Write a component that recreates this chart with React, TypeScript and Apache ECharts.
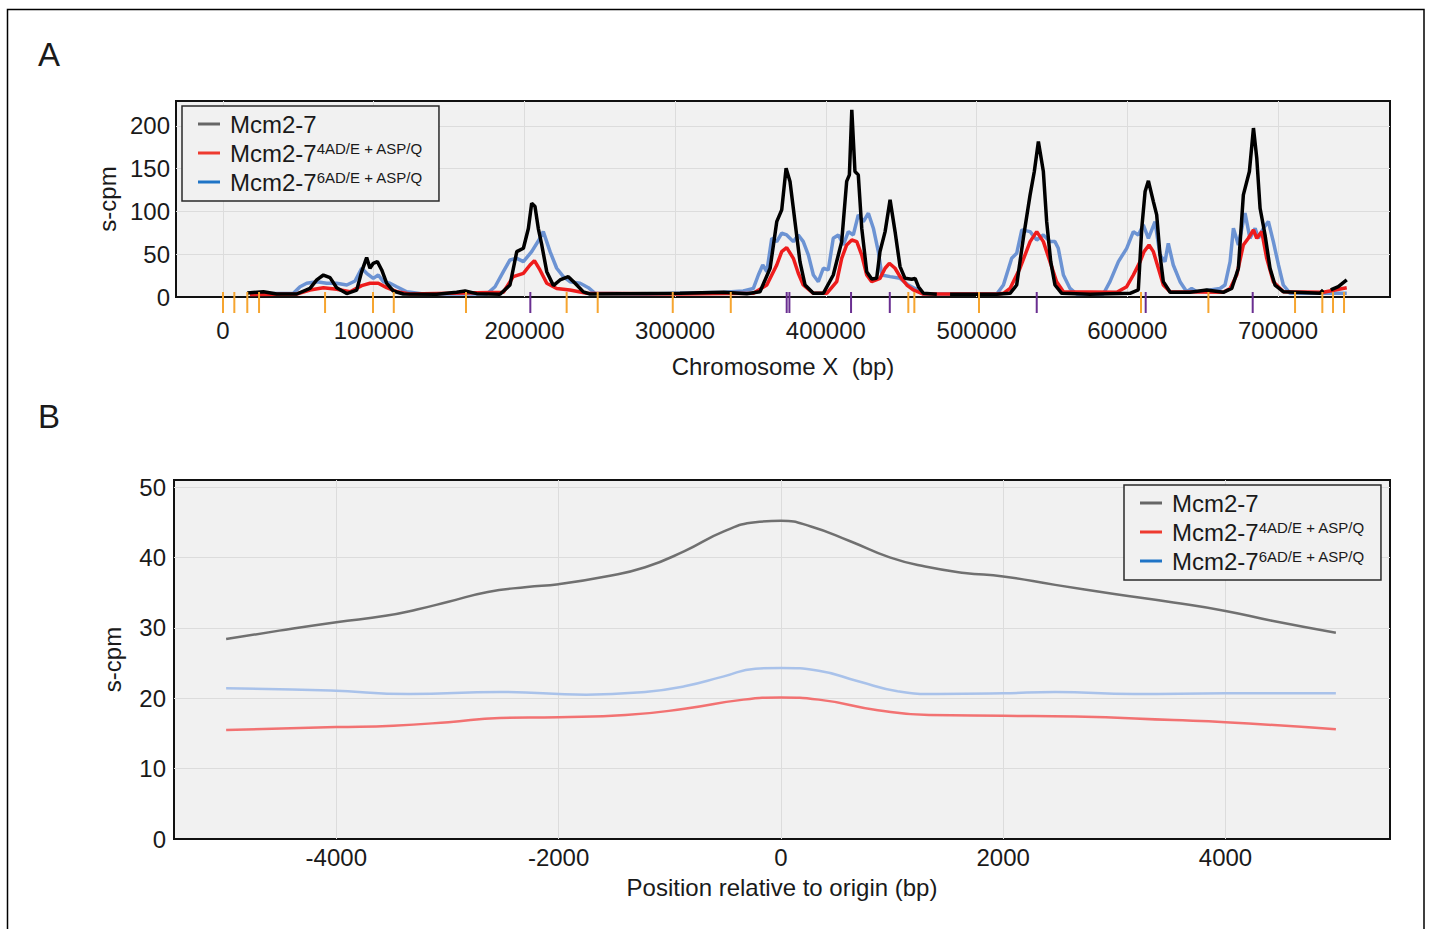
import React, { useEffect, useRef } from "react";
import * as echarts from "echarts";

// ---------- Panel A data (positions in kb, values in s-cpm) ----------
const blackPos = [16.1, 26.8, 35.6, 48.9, 57.7, 62.2, 66.6, 71, 75.4, 82.1, 88.7, 92, 95.3, 97.5, 99.7, 102.4, 105.3, 108.6, 113, 119.6, 141.8, 155, 160.6, 168.3, 183.8, 190.4, 194.9, 199.3, 202.6, 204.8, 207, 209.2, 211.5, 214.8, 219.2, 223.6, 229.1, 233.6, 239.1, 243.5, 303.2, 332, 347.5, 356.3, 363, 367.4, 370.7, 373.6, 376.2, 379.5, 382.8, 386.2, 391.7, 398.3, 404.9, 410.5, 413.8, 415.6, 417.2, 419.3, 421.5, 423.8, 427.1, 430.4, 433.7, 435.9, 439.3, 442.6, 445.9, 449.2, 452.5, 457, 459.2, 461.4, 464.7, 473.6, null, 482.4, 513.4, 522.2, 526.6, 531, 535.5, 538.3, 541, 544.3, 546.5, 549.2, 552, 556.5, 575.3, 601.8, 607.3, 609.6, 611.8, 614, 617.3, 619.5, 621.7, 623.9, 628.4, 641.6, 652.7, 663.7, 669.3, 673.7, 677, 681, 683.7, 685.9, 688.1, 691.4, 694.7, 698, 703.5, 727.9, 730, null, 735, 740, 745.6];
const blackVal = [4.7, 6.2, 3.5, 3.5, 10, 20, 25.7, 22.6, 10.9, 4, 8, 29.6, 46, 33.6, 39.4, 41.3, 31.6, 16, 7, 3.5, 3.2, 5.5, 7, 3.9, 3.2, 14, 53, 57, 80, 109.6, 105.7, 80, 60.8, 29.6, 13.3, 19.9, 23.8, 16, 6, 3.5, 4.3, 5.5, 3.9, 6.2, 33.6, 88, 101.8, 150.5, 135, 88, 41.3, 14, 4.3, 4.3, 25.7, 64.7, 135, 142.7, 218.8, 146.6, 142.7, 80.4, 29.6, 21, 21.8, 53, 76.4, 113.5, 76.4, 35.5, 21.8, 20.7, 21.8, 12, 4.3, 3.2, null, 3.2, 3.2, 4.3, 14, 68.6, 119.3, 146.6, 181.7, 146.6, 88, 41.3, 14, 4.3, 3.2, 4.3, 8.2, 80.4, 123.2, 135.7, 111.5, 96, 49, 18, 5.5, 5.5, 8.2, 5.5, 10, 33.6, 119.3, 146.6, 197.4, 162.3, 103.7, 72.5, 33.6, 14, 6.2, 4.3, 8.2, null, 8.2, 12, 19.9];

const redPos = [17.9, 48.9, 57.7, 66.6, 75.4, 84.3, 92, 97.5, 103, 108.6, 115.3, 124.1, 186, 192.6, 199.3, 203.7, 206.6, 210.3, 214.8, 221.4, 230.2, 241.3, 303.2, 351.9, 360.8, 367.4, 370.7, 374, 378.4, 381.7, 385, 391.7, 400.6, 407.2, 410.5, 413.8, 417.2, 420.5, 423.8, 427.1, 430.4, 435.9, 439.3, 442.1, 445.9, 449.2, 453.7, 458, 464.7, 513.4, 517.8, 522.2, 528.8, 535.5, 539.9, 544.3, 548.7, 553.1, 557.6, 593, 599.6, 604, 608.5, 611.1, 614.4, 617.3, 620.6, 623.9, 628.4, 663.7, 668.2, 672.6, 677, 680.3, 683.7, 685.9, 689.2, 692.5, 696.9, 703.5, 730, 745.6];
const redVal = [3, 3.5, 8.2, 10.9, 9, 6.2, 13.3, 16, 16, 10.9, 6.2, 3.5, 5.5, 23.8, 27.7, 37.4, 42.5, 31.6, 16, 10, 8.2, 4.3, 3.5, 4.3, 14, 37.4, 53, 57.7, 45.2, 27.7, 14, 4.3, 4.3, 17.9, 45.2, 60.8, 66.6, 64.7, 49, 25.7, 17.9, 21.8, 33.6, 39.4, 33.6, 23.8, 14, 8.2, 3.5, 3.5, 4.3, 10, 33.6, 64.7, 76.4, 64.7, 41.3, 17.9, 6.2, 5.5, 12, 25.7, 41.3, 53, 60.8, 53, 33.6, 14, 6.2, 5.5, 10, 25.7, 60.8, 68.6, 78.4, 68.6, 76.4, 45.2, 17.9, 6.2, 5.5, 10.9];

const bluePos = [17.9, 46.7, 51.1, 55.5, 62.2, 68.8, 75.4, 82.1, 87.6, 92, 95.3, 99.7, 103, 106.4, 110.8, 115.3, 121.9, 132.9, 175, 180.5, 186, 190.4, 194.9, 199.3, 204.8, 210.3, 212.5, 217, 221.4, 225.8, 230.2, 236.9, 239.1, 242.4, 246.8, 281.1, 332, 345.2, 351.9, 355.2, 358.1, 360.8, 364.1, 367.4, 370.7, 374, 378.4, 381.7, 385, 388.4, 391.7, 395, 398.3, 401.6, 404.9, 408.3, 411.6, 414.9, 418.2, 421.5, 424.9, 428.2, 431.5, 434.8, 437.1, 442.6, 449.2, 454.7, 459.2, 464.7, 513.4, 517.8, 523.3, 526.6, 530, 535.5, 539.9, 544.3, 548.7, 552, 554.2, 557.6, 562, 566.4, 584.1, 588.5, 594.1, 599.6, 604, 607.3, 610.6, 614, 618.4, 621.7, 625, 627.2, 630.5, 635, 639.4, 642.7, 646.1, 654.9, 661.5, 664.8, 668.2, 670.4, 673.7, 678.1, 681.4, 684.8, 687, 690.3, 693.6, 696.9, 700.3, 703.5, 708, 745.6];
const blueVal = [4, 4.3, 12, 16, 17.9, 16, 16, 14, 18.7, 33.6, 27.7, 21.8, 25.7, 17.9, 16, 12, 6.2, 3.5, 3.5, 12, 29.6, 43.3, 45.2, 41.3, 53, 68.6, 76.4, 53, 33.6, 23.8, 17.9, 16, 14, 10.9, 4.3, 3.5, 5.5, 7, 10, 25.7, 37.4, 29.6, 68.6, 64.7, 74.5, 72.5, 64.7, 72.5, 64.7, 49, 25.7, 17.9, 33.6, 31.6, 68.6, 72.5, 60.8, 76.4, 72.5, 96, 88, 97.9, 80.4, 53, 25.7, 23.8, 21.8, 14, 10, 3.5, 3.5, 14, 45.2, 51, 78.4, 76.4, 66.6, 72.5, 64.7, 64.7, 56.9, 25.7, 10, 3.5, 3.5, 17.9, 41.3, 56.9, 76.4, 72.5, 84.2, 68.6, 88, 49, 41.3, 62.7, 37.4, 17.9, 6.2, 10, 6.2, 8.2, 10, 14, 41.3, 80.4, 60.8, 97.9, 68.6, 80.4, 68.6, 80.4, 88.2, 64.7, 37.4, 14, 4.3, 4.3];

// origin markers along chromosome (kb)
const originsOrange = [0, 7.5, 16.1, 23.9, 67.7, 99.5, 113.3, 161.2, 228, 248.6, 298.4, 336.9, 454.7, 458.7, 501.6, 609.1, 653.8, 711.3, 729.4, 736.5, 743.8];
const originsPurple = [203.9, 374, 375.8, 416.7, 442.4, 539.9, 612.2, 683.2];

// ---------- Panel B data (position relative to origin, bp) ----------
const grayPosB = [-4991, -4513, -4000, -3558, -3274, -2991, -2637, -2283, -2000, -1575, -1221, -867, -513, -230, 0, 270, 624, 979, 1298, 1652, 2000, 2468, 3000, 3532, 4000, 4418, 4993];
const grayValB = [28.4, 29.6, 30.8, 31.7, 32.6, 33.7, 35.1, 35.8, 36.2, 37.3, 38.6, 40.9, 43.7, 45.0, 45.2, 44.4, 42.3, 40.0, 38.7, 37.8, 37.3, 36.1, 34.8, 33.6, 32.4, 31.0, 29.3];
const bluePosB = [-4991, -4053, -3345, -2531, -1752, -1221, -867, -513, -230, 0, 340, 695, 1050, 1404, 2000, 2468, 3177, 4000, 4993];
const blueValB = [21.4, 21.1, 20.6, 20.9, 20.5, 20.9, 21.7, 23.1, 24.2, 24.3, 23.9, 22.4, 21.0, 20.6, 20.7, 20.9, 20.6, 20.7, 20.7];
const redPosB = [-4991, -4000, -3487, -2991, -2531, -2000, -1398, -867, -336, 0, 340, 872, 1333, 2000, 2645, 3532, 4000, 4993];
const redValB = [15.5, 15.9, 16.1, 16.6, 17.2, 17.3, 17.6, 18.5, 19.8, 20.1, 19.8, 18.3, 17.6, 17.5, 17.4, 16.9, 16.6, 15.6];

const NAME_WT = "Mcm2-7";
const NAME_4 = "Mcm2-7 4AD/E + ASP/Q";
const NAME_6 = "Mcm2-7 6AD/E + ASP/Q";
const SUP: Record<string, string> = { [NAME_4]: "4AD/E + ASP/Q", [NAME_6]: "6AD/E + ASP/Q" };

const FONT = "Liberation Sans, Arial, sans-serif";
const TXT = "#1a1a1a";

function pairs(pos: (number | null)[], val: (number | null)[], scale: number) {
  return pos.map((p, i) => (p === null || val[i] === null ? [null, null] : [(p as number) * scale, val[i]]));
}

function markSeries(name: string, list: number[], color: string) {
  return {
    name,
    type: "custom",
    xAxisIndex: 0,
    yAxisIndex: 0,
    clip: false,
    silent: true,
    z: 5,
    data: list.map((k) => [k * 1000, 0]),
    renderItem: (_p: any, api: any) => {
      const c = api.coord([api.value(0), 0]);
      return {
        type: "rect",
        shape: { x: c[0] - 1, y: c[1] - 5, width: 2, height: 21 },
        style: { fill: color },
      };
    },
  };
}

function legendOpt(left: number, top: number) {
  return {
    orient: "vertical",
    left,
    top,
    padding: [6, 16, 7, 16],
    itemGap: 5,
    itemWidth: 22,
    itemHeight: 3,
    icon: "rect",
    backgroundColor: "#f1f1f1",
    borderColor: "#2a2a2a",
    borderWidth: 1.5,
    borderRadius: 0,
    selectedMode: false,
    data: [
      { name: NAME_WT, itemStyle: { color: "#666666" } },
      { name: NAME_4, itemStyle: { color: "#ee3a2f" } },
      { name: NAME_6, itemStyle: { color: "#1f74c6" } },
    ],
    formatter: (name: string) =>
      SUP[name] ? `{m|Mcm2-7}{s|${SUP[name]}}` : `{m|Mcm2-7}`,
    textStyle: {
      color: TXT,
      fontFamily: FONT,
      rich: {
        m: { fontSize: 24, lineHeight: 24, fontFamily: FONT, color: TXT, padding: [0, 0, 0, 5] },
        s: { fontSize: 15, lineHeight: 15, fontFamily: FONT, color: TXT, verticalAlign: "top" },
      },
    },
  };
}

export default function App() {
  const ref = useRef<HTMLDivElement>(null);
  useEffect(() => {
    if (!ref.current) return;
    const chart = echarts.init(ref.current, null, { renderer: "svg" });
    const fmt = (v: number) => String(v);
    const axisLabel = { color: TXT, fontSize: 24, fontFamily: FONT, formatter: fmt };
    const splitLine = { show: true, showMinLine: false, showMaxLine: false, lineStyle: { color: "#dcdcdc", width: 1 } };
    const nameStyle = { color: TXT, fontSize: 24, fontFamily: FONT };
    chart.setOption({
      animation: false,
      backgroundColor: "#ffffff",
      grid: [
        { left: 176, top: 101, width: 1214, height: 196, show: true, backgroundColor: "#f1f1f1", borderColor: "#111", borderWidth: 2 },
        { left: 174, top: 480, width: 1216, height: 359, show: true, backgroundColor: "#f1f1f1", borderColor: "#111", borderWidth: 2 },
      ],
      xAxis: [
        {
          gridIndex: 0, type: "value", min: -31200, max: 774300, splitNumber: 8,
          axisLine: { show: false }, axisTick: { show: false },
          axisLabel: { ...axisLabel, margin: 21, showMinLabel: false, showMaxLabel: false },
          splitLine,
          name: "Chromosome X  (bp)", nameLocation: "middle", nameGap: 57, nameTextStyle: nameStyle,
        },
        {
          gridIndex: 1, type: "value", min: -5460, max: 5480, splitNumber: 5,
          axisLine: { show: false }, axisTick: { show: false },
          axisLabel: { ...axisLabel, margin: 6, showMinLabel: false, showMaxLabel: false },
          splitLine,
          name: "Position relative to origin (bp)", nameLocation: "middle", nameGap: 36, nameTextStyle: nameStyle,
        },
      ],
      yAxis: [
        {
          gridIndex: 0, type: "value", min: 0, max: 229, splitNumber: 5,
          axisLine: { show: false }, axisTick: { show: false },
          axisLabel: { ...axisLabel, margin: 6, showMaxLabel: false },
          splitLine,
          name: "s-cpm", nameLocation: "middle", nameGap: 52, nameTextStyle: nameStyle,
        },
        {
          gridIndex: 1, type: "value", min: 0, max: 51, splitNumber: 5,
          axisLine: { show: false }, axisTick: { show: false },
          axisLabel: { ...axisLabel, margin: 8, showMaxLabel: false },
          splitLine,
          name: "s-cpm", nameLocation: "middle", nameGap: 50, nameTextStyle: nameStyle,
        },
      ],
      legend: [legendOpt(182, 106), legendOpt(1124, 485)],
      graphic: [
        { type: "rect", shape: { x: 7.5, y: 9.5, width: 1416.5, height: 940 }, style: { fill: "none", stroke: "#000", lineWidth: 1.5 }, silent: true },
        { type: "text", x: 38, y: 54, style: { text: "A", fontSize: 33, fontFamily: FONT, fill: TXT, verticalAlign: "middle" } },
        { type: "text", x: 38, y: 416, style: { text: "B", fontSize: 33, fontFamily: FONT, fill: TXT, verticalAlign: "middle" } },
      ],
      series: [
        { name: NAME_6, type: "line", xAxisIndex: 0, yAxisIndex: 0, showSymbol: false, connectNulls: false, data: pairs(bluePos, blueVal, 1000), lineStyle: { color: "#6c93d3", width: 3.5 }, itemStyle: { color: "#6c93d3" }, z: 2 },
        { name: NAME_4, type: "line", xAxisIndex: 0, yAxisIndex: 0, showSymbol: false, data: pairs(redPos, redVal, 1000), lineStyle: { color: "#ee1c1c", width: 3.5 }, itemStyle: { color: "#ee1c1c" }, z: 3 },
        { name: NAME_WT, type: "line", xAxisIndex: 0, yAxisIndex: 0, showSymbol: false, connectNulls: false, data: pairs(blackPos, blackVal, 1000), lineStyle: { color: "#000000", width: 3.5 }, itemStyle: { color: "#000000" }, z: 4 },
        markSeries("orange origins", originsOrange, "#f6a530"),
        markSeries("purple origins", originsPurple, "#6a2f91"),
        { name: NAME_WT, type: "line", xAxisIndex: 1, yAxisIndex: 1, showSymbol: false, smooth: true, data: pairs(grayPosB, grayValB, 1), lineStyle: { color: "#707070", width: 2.5 }, itemStyle: { color: "#707070" } },
        { name: NAME_4, type: "line", xAxisIndex: 1, yAxisIndex: 1, showSymbol: false, smooth: true, data: pairs(redPosB, redValB, 1), lineStyle: { color: "#f27272", width: 2.5 }, itemStyle: { color: "#f27272" } },
        { name: NAME_6, type: "line", xAxisIndex: 1, yAxisIndex: 1, showSymbol: false, smooth: true, data: pairs(bluePosB, blueValB, 1), lineStyle: { color: "#a9c2ea", width: 2.5 }, itemStyle: { color: "#a9c2ea" } },
      ],
    });
    return () => chart.dispose();
  }, []);
  return <div ref={ref} style={{ position: "absolute", left: 0, top: 0, width: 1429, height: 929 }} />;
}
